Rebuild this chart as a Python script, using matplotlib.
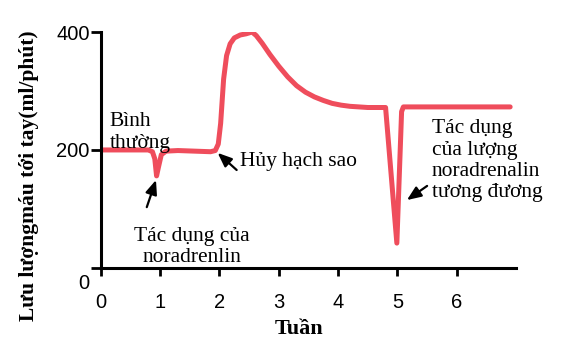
import matplotlib
matplotlib.use("Agg")
import matplotlib.pyplot as plt
import matplotlib.transforms as mtransforms

# Data
weeks = [0, 0.8, 0.87, 0.91, 0.94, 0.97, 1.02, 1.1, 1.3, 1.85, 1.93, 1.98, 2.02, 2.07,
         2.12, 2.18, 2.25, 2.35, 2.45, 2.55, 2.62, 2.72, 2.85, 3.0, 3.15, 3.3, 3.45,
         3.6, 3.75, 3.9, 4.05, 4.2, 4.5, 4.8, 4.99, 5.07, 5.1, 6.9]
flow = [200, 200, 197, 185, 156, 170, 192, 198, 199, 197, 199, 210, 245, 320,
        360, 380, 390, 395, 397, 400, 394, 381, 362, 342, 324, 309, 298,
        290, 284, 279, 276, 274, 272, 272, 42, 265, 273, 273]
xticks = [0, 1, 2, 3, 4, 5, 6]
yticks = [0, 200, 400]

fig = plt.figure(figsize=(5.76, 3.52), dpi=100)
ax = fig.add_axes([0.175, 0.239, 0.721, 0.67])

ax.plot(weeks, flow, color='#EF4D5C', lw=3.6, solid_capstyle='round', solid_joinstyle='round')

ax.set_xlim(0, 7)
ax.set_ylim(0, 400)
ax.set_xticks(xticks)
ax.set_yticks(yticks)
for s in ['top', 'right']:
    ax.spines[s].set_visible(False)
for s in ['left', 'bottom']:
    ax.spines[s].set_linewidth(2.2)
ax.tick_params(axis='both', width=2, labelsize=14.5)
ax.tick_params(axis='y', length=7, pad=1)
ax.tick_params(axis='x', length=6, pad=12)
for lab in ax.get_xticklabels() + ax.get_yticklabels():
    lab.set_fontfamily('Liberation Sans')
# the "0" label on the y axis sits lower in the reference
ylab0 = ax.get_yticklabels()[0]
ylab0.set_transform(ylab0.get_transform() + mtransforms.ScaledTranslation(0, -14 / 100, fig.dpi_scale_trans))

serif = 'Liberation Serif'
ax.set_ylabel('Lưu lượngmáu tới tay(ml/phút)', fontfamily=serif, fontweight='bold', fontsize=15.5)
ax.yaxis.set_label_coords(-0.15, 0.39)
ax.set_xlabel('Tuần', fontfamily=serif, fontweight='bold', fontsize=16)
ax.xaxis.set_label_coords(0.477, -0.215)

fs = 15.5
ls = 1.17
ax.text(0.15, 264, 'Bình\nthường', fontfamily=serif, fontsize=fs, va='top', ha='left', linespacing=ls)
ax.text(1.53, 70, 'Tác dụng của\nnoradrenlin', fontfamily=serif, fontsize=fs, va='top', ha='center', linespacing=ls)
ax.text(2.34, 180, 'Hủy hạch sao', fontfamily=serif, fontsize=fs, va='center', ha='left')
ax.text(5.58, 252, 'Tác dụng\ncủa lượng\nnoradrenalin\ntương đương', fontfamily=serif, fontsize=fs,
        va='top', ha='left', linespacing=ls)

arrow = dict(arrowstyle='-|>,head_length=0.85,head_width=0.35', color='black', lw=1.6,
             mutation_scale=10, shrinkA=0, shrinkB=0)
ax.annotate('', xy=(0.93, 149), xytext=(0.775, 103), arrowprops=arrow)
ax.annotate('', xy=(1.97, 195), xytext=(2.29, 166), arrowprops=arrow)
ax.annotate('', xy=(5.16, 115), xytext=(5.50, 139), arrowprops=arrow)

fig.savefig('out.png', dpi=100)
